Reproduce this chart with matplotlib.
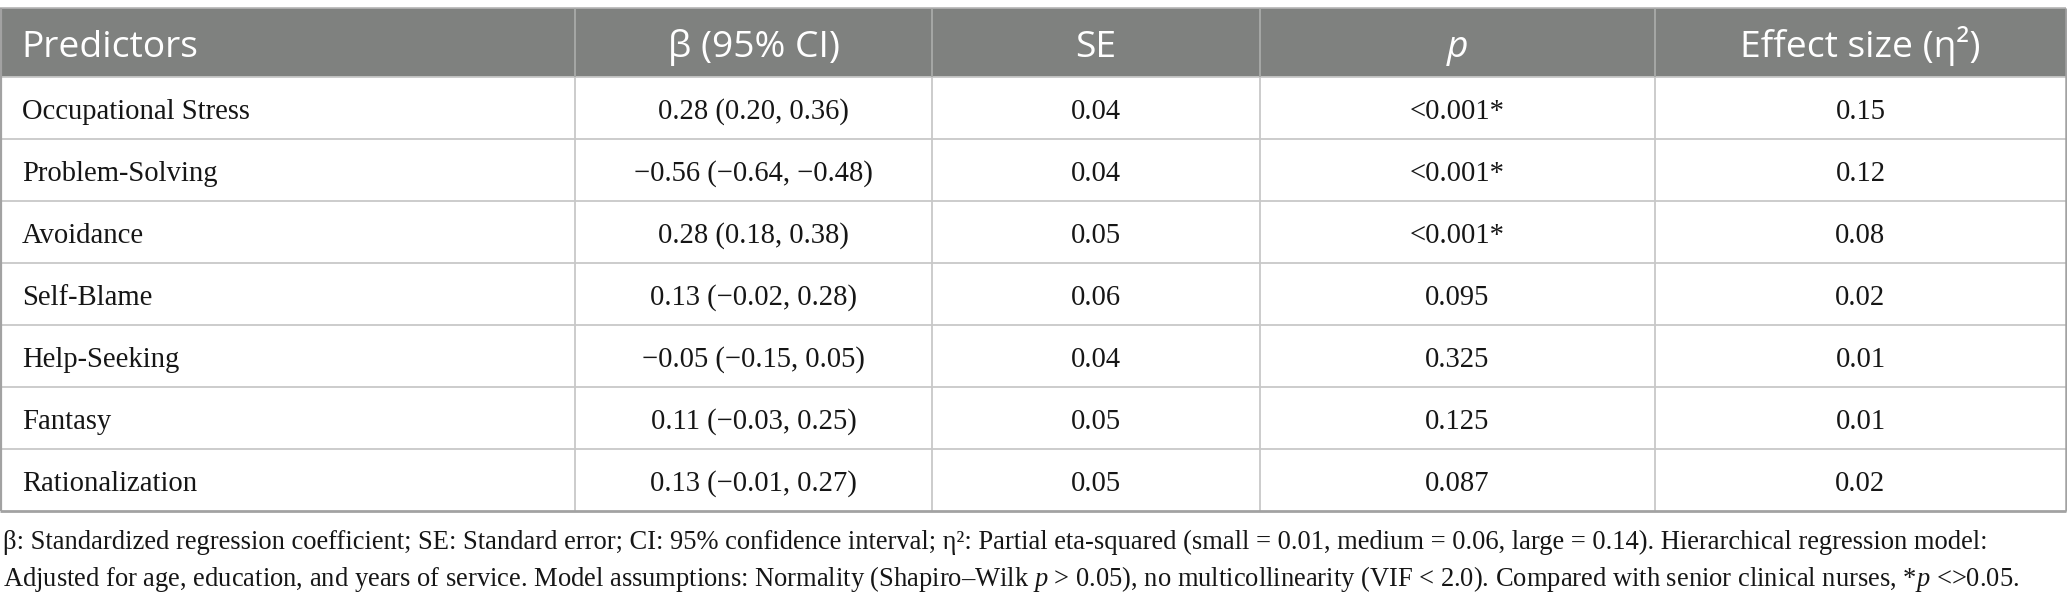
import matplotlib
matplotlib.use("Agg")
import matplotlib.pyplot as plt
from matplotlib.patches import Rectangle

plt.rcParams['mathtext.fontset'] = 'custom'
plt.rcParams['mathtext.rm'] = 'Liberation Serif'
plt.rcParams['mathtext.it'] = 'Liberation Serif:italic'

# ---------------- data ----------------
headers = ["Predictors", "β (95% CI)", "SE", "p", "Effect size (η²)"]
predictors = ["Occupational Stress", "Problem-Solving", "Avoidance", "Self-Blame",
              "Help-Seeking", "Fantasy", "Rationalization"]
beta = [0.28, -0.56, 0.28, 0.13, -0.05, 0.11, 0.13]
ci_low = [0.20, -0.64, 0.18, -0.02, -0.15, -0.03, -0.01]
ci_high = [0.36, -0.48, 0.38, 0.28, 0.05, 0.25, 0.27]
se = [0.04, 0.04, 0.05, 0.06, 0.04, 0.05, 0.05]
p_values = ["<0.001*", "<0.001*", "<0.001*", "0.095", "0.325", "0.125", "0.087"]
eta_sq = [0.15, 0.12, 0.08, 0.02, 0.01, 0.01, 0.02]

footnote_lines = [
    "β: Standardized regression coefficient; SE: Standard error; CI: 95% confidence interval; "
    "η²: Partial eta-squared (small = 0.01, medium = 0.06, large = 0.14). Hierarchical regression model:",
    "Adjusted for age, education, and years of service. Model assumptions: Normality (Shapiro–Wilk "
    "$p$ > 0.05), no multicollinearity (VIF < 2.0). Compared with senior clinical nurses, *$p$ <>0.05.",
]


def fmt(v):
    return f"{v:.2f}".replace("-", "\u2212")


rows = []
for i in range(len(predictors)):
    rows.append([
        predictors[i],
        f"{fmt(beta[i])} ({fmt(ci_low[i])}, {fmt(ci_high[i])})",
        fmt(se[i]),
        p_values[i],
        fmt(eta_sq[i]),
    ])

# ---------------- layout ----------------
W, H = 2067, 607
col_edges = [0, 575, 932, 1260, 1655, 2066]
top = 8
header_h = 69
row_h = 62.0
n_rows = len(rows)
table_bottom = top + header_h + n_rows * row_h

HEADER_BG = "#7f817f"
GRID = "#c8c8c8"
BORDER = "#a2a2a2"
TEXT = "#161616"

fig = plt.figure(figsize=(W / 100, H / 100), dpi=100)
ax = fig.add_axes([0, 0, 1, 1])
ax.set_xlim(0, W)
ax.set_ylim(H, 0)
ax.axis("off")

# header background
ax.add_patch(Rectangle((col_edges[0], top), col_edges[-1] - col_edges[0], header_h,
                       facecolor=HEADER_BG, edgecolor="none", zorder=1))
# top line
ax.hlines(top, col_edges[0], col_edges[-1], color="#b4b4b4", lw=1.2, zorder=3)
# header vertical separators
ax.vlines(col_edges[1:-1], top, top + header_h, color="#a8aaa8", lw=1.3, zorder=3)
# body horizontal lines
for r in range(n_rows):
    y = top + header_h + r * row_h
    ax.hlines(y, col_edges[0], col_edges[-1], color=GRID, lw=1.3, zorder=2)
# body vertical lines
ax.vlines(col_edges[1:-1], top + header_h, table_bottom, color=GRID, lw=1.3, zorder=2)
# outer borders
ax.vlines([col_edges[0] + 0.8], top, table_bottom, color=BORDER, lw=1.6, zorder=3)
ax.vlines([col_edges[-1]], top, table_bottom, color=BORDER, lw=1.8, zorder=3)
ax.hlines(table_bottom, col_edges[0], col_edges[-1], color=BORDER, lw=2.0, zorder=3)

# header text
HEAD_FS = 26.8
for j, h in enumerate(headers):
    yb = top + 49
    if j == 0:
        ax.text(col_edges[0] + 21, yb, h, ha="left", va="baseline", color="white",
                fontsize=HEAD_FS, family="Open Sans", zorder=4)
    else:
        xc = (col_edges[j] + col_edges[j + 1]) / 2
        ax.text(xc, yb, h, ha="center", va="baseline", color="white",
                fontsize=HEAD_FS, family="Open Sans",
                fontstyle="italic" if h == "p" else "normal", zorder=4)

# body text
BODY_FS = 20.6
for r, row in enumerate(rows):
    yb = top + header_h + r * row_h + 42
    for j, val in enumerate(row):
        if j == 0:
            ax.text(col_edges[0] + 22, yb, val, ha="left", va="baseline", color=TEXT,
                    fontsize=BODY_FS, family="Liberation Serif", zorder=4)
        else:
            xc = (col_edges[j] + col_edges[j + 1]) / 2
            ax.text(xc, yb, val, ha="center", va="baseline", color=TEXT,
                    fontsize=BODY_FS, family="Liberation Serif", zorder=4)

# footnote
FOOT_FS = 19.1
for k, line in enumerate(footnote_lines):
    ax.text(3, 549 + k * 37, line, ha="left", va="baseline", color=TEXT,
            fontsize=FOOT_FS, family="Liberation Serif", zorder=4)

fig.savefig("out.png", dpi=100, facecolor="white")
